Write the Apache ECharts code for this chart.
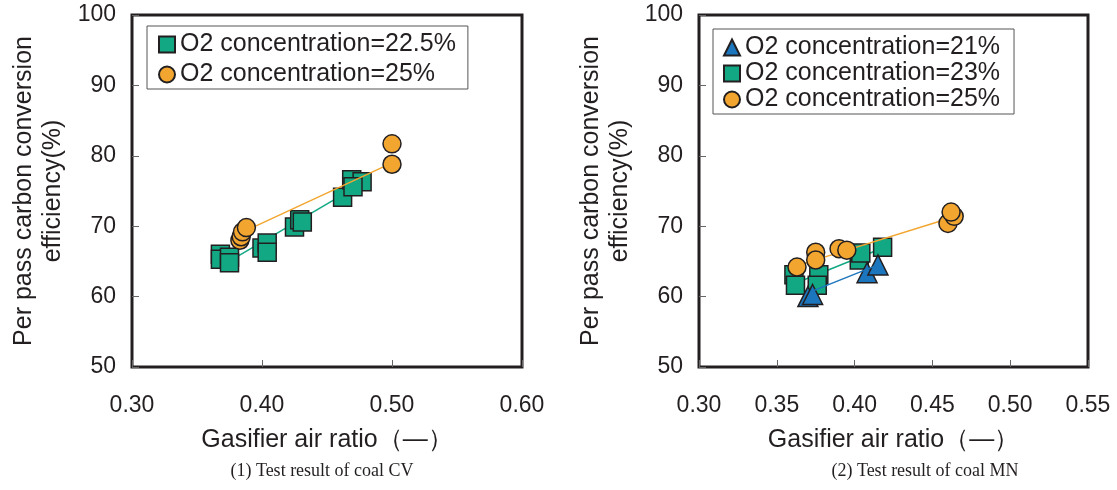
<!DOCTYPE html>
<html>
<head>
<meta charset="utf-8">
<script src="https://cdn.jsdelivr.net/npm/echarts@6/dist/echarts.min.js"></script>
<style>
html,body{margin:0;padding:0;background:#fff;}
#chart{width:1117px;height:490px;}
</style>
</head>
<body>
<div id="chart"></div>
<script>
// ---------- Data ----------
// (1) coal CV
const cvNames = ['O2 concentration=22.5%', 'O2 concentration=25%'];
const cv225 = [[0.368,66.0],[0.368,65.3],[0.375,65.6],[0.375,64.8],[0.400,66.9],[0.404,67.6],[0.404,66.3],
  [0.425,69.9],[0.429,70.9],[0.431,70.6],[0.462,74.1],[0.469,76.6],[0.477,76.3],[0.470,75.6]];
const cv25 = [[0.383,68.0],[0.384,68.5],[0.385,69.2],[0.388,69.8],[0.500,81.7],[0.500,78.8]];
const cvTrend225 = [[0.370,64.5],[0.478,76.2]];
const cvTrend25 = [[0.388,69.4],[0.500,79.0]];
// (2) coal MN
const mnNames = ['O2 concentration=21%', 'O2 concentration=23%', 'O2 concentration=25%'];
const mn21 = [[0.370,60.0],[0.373,60.3],[0.408,63.4],[0.415,64.5]];
const mn23 = [[0.361,63.1],[0.362,61.6],[0.377,63.1],[0.376,61.6],[0.403,65.2],[0.404,66.2],[0.418,67.0]];
const mn25 = [[0.363,64.2],[0.375,66.3],[0.375,65.2],[0.390,66.8],[0.395,66.6],[0.460,70.4],[0.464,71.4],[0.462,72.0]];
const mnTrend21 = [[0.372,60.7],[0.415,64.5]];
const mnTrend23 = [[0.362,61.9],[0.418,66.9]];
const mnTrend25 = [[0.363,64.4],[0.462,71.2]];
// axes / text
const xTicksCV = {min:0.30, max:0.60, interval:0.10};
const xTicksMN = {min:0.30, max:0.55, interval:0.05};
const yTicks = {min:50, max:100, interval:10};
const xName = 'Gasifier air ratio（—）';
const yName = 'Per pass carbon conversion\nefficiency(%)';
const captions = ['(1) Test result of coal CV', '(2) Test result of coal MN'];

// ---------- Styles ----------
const GREEN = '#12a884', ORANGE = '#f2a630', BLUE = '#1c76bd', EDGE = '#231f20';
const FONT = 'Liberation Sans, Arial, Helvetica, sans-serif';

function xAxis(gi, t) {
  return {
    type:'value', gridIndex:gi, min:t.min, max:t.max, interval:t.interval,
    axisLine:{show:false}, splitLine:{show:false},
    axisTick:{show:true, inside:true, length:7, lineStyle:{color:'#666', width:1}},
    axisLabel:{fontSize:23, color:'#231f20', fontFamily:FONT, margin:27,
      formatter:v=>v.toFixed(2)},
    name:xName, nameLocation:'middle', nameGap:61,
    nameTextStyle:{fontSize:25, color:'#231f20', fontFamily:FONT}
  };
}
function yAxis(gi) {
  return {
    type:'value', gridIndex:gi, min:yTicks.min, max:yTicks.max, interval:yTicks.interval,
    axisLine:{show:false}, splitLine:{show:false},
    axisTick:{show:true, inside:true, length:7, lineStyle:{color:'#666', width:1}},
    axisLabel:{fontSize:23, color:'#231f20', fontFamily:FONT, margin:16},
    name:yName, nameLocation:'middle', nameGap:64,
    nameTextStyle:{fontSize:25, color:'#231f20', fontFamily:FONT, lineHeight:29, align:'center'}
  };
}
function scatter(name, data, gi, symbol, color, size, z) {
  return {type:'scatter', name, data, xAxisIndex:gi, yAxisIndex:gi, symbol, symbolSize:size, z,
    itemStyle:{color, borderColor:EDGE, borderWidth:1.5, opacity:1}};
}
function trend(data, gi, color, z) {
  return {type:'line', data, xAxisIndex:gi, yAxisIndex:gi, symbol:'none', z, silent:true,
    lineStyle:{color, width:1.5}};
}
const legendBase = {
  orient:'vertical', backgroundColor:'#fff', borderColor:'#555', borderWidth:1,
  itemWidth:16, itemHeight:16, itemGap:5,
  textStyle:{fontSize:25, color:'#231f20', fontFamily:FONT, lineHeight:25},
  selectedMode:false
};

const chart = echarts.init(document.getElementById('chart'), null, {renderer:'canvas'});
chart.setOption({
  animation:false,
  textStyle:{fontFamily:FONT},
  grid:[
    {left:132, right:595, top:15, bottom:123, show:true, borderColor:EDGE, borderWidth:3, backgroundColor:'transparent'},
    {left:699, right:29, top:15, bottom:123, show:true, borderColor:EDGE, borderWidth:3, backgroundColor:'transparent'}
  ],
  xAxis:[xAxis(0, xTicksCV), xAxis(1, xTicksMN)],
  yAxis:[yAxis(0), yAxis(1)],
  legend:[
    Object.assign({}, legendBase, {left:147, top:26, padding:[6,12,2,11], data:cvNames.map(n=>({name:n}))}),
    Object.assign({}, legendBase, {left:713, top:29, itemGap:1, padding:[6,14,2,10],
      data:mnNames.map(n=>({name:n}))})
  ],
  series:[
    trend(cvTrend225, 0, GREEN, 2),
    scatter(cvNames[0], cv225, 0, 'rect', GREEN, 18, 3),
    trend(cvTrend25, 0, ORANGE, 4),
    scatter(cvNames[1], cv25, 0, 'circle', ORANGE, 18, 5),
    trend(mnTrend23, 1, GREEN, 2),
    scatter(mnNames[1], mn23, 1, 'rect', GREEN, 18, 3),
    scatter(mnNames[0], mn21, 1, 'triangle', BLUE, 20, 3.5),
    trend(mnTrend21, 1, BLUE, 4),
    trend(mnTrend25, 1, ORANGE, 4),
    scatter(mnNames[2], mn25, 1, 'circle', ORANGE, 18, 5)
  ],
  graphic:[
    {type:'text', x:322, y:462, style:{text:captions[0], font:'18px "Liberation Serif", "Times New Roman", serif', fill:'#231f20', textAlign:'center'}},
    {type:'text', x:925, y:462, style:{text:captions[1], font:'18px "Liberation Serif", "Times New Roman", serif', fill:'#231f20', textAlign:'center'}}
  ]
});
</script>
</body>
</html>
